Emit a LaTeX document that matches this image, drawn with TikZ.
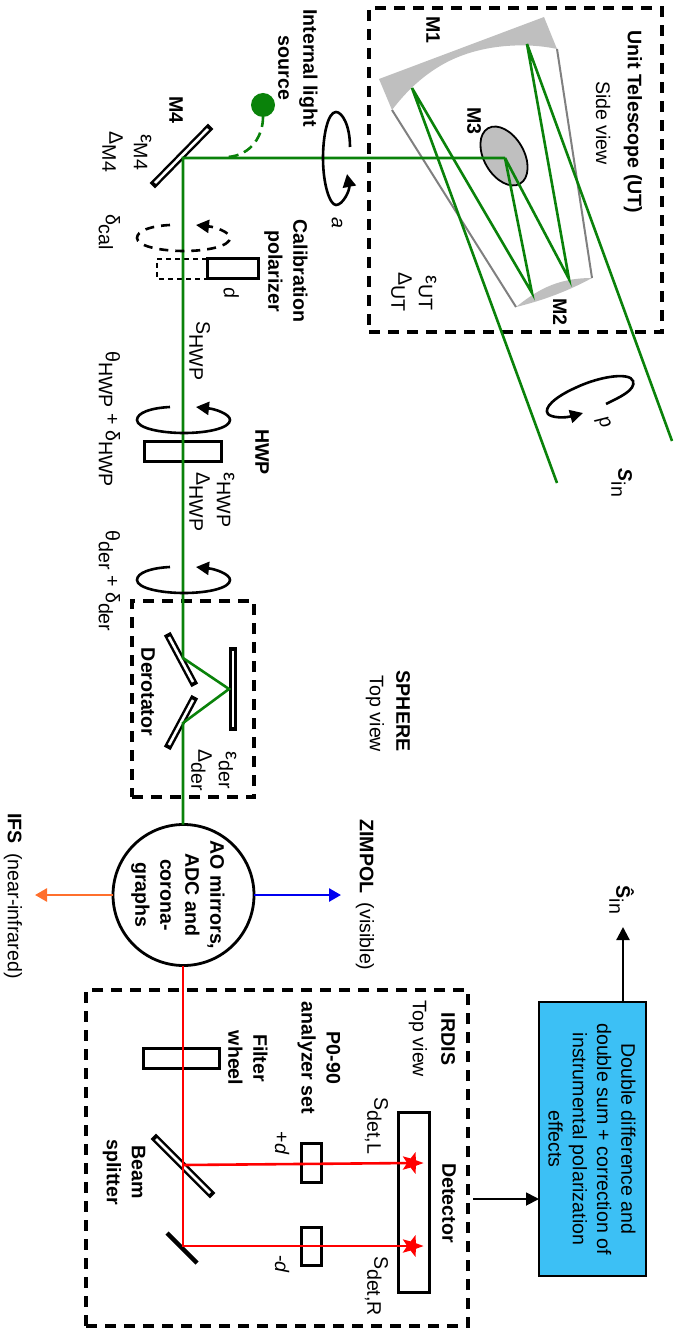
\documentclass[tikz,border=0pt]{standalone}
\usepackage{fontspec}
\setmainfont{Liberation Sans}
\usetikzlibrary{arrows.meta,shapes.geometric}
\definecolor{beamgreen}{HTML}{0A820A}
\definecolor{beamorange}{HTML}{FF6F2C}
\definecolor{beamblue}{HTML}{0000F0}
\definecolor{mirrorgray}{HTML}{BFBFBF}
\definecolor{framegray}{HTML}{808080}
\definecolor{boxblue}{HTML}{3CC0F5}
\newcommand{\Sb}[1]{\smash{\raisebox{-7pt}{#1}}}
\newcommand{\Eps}[1]{ε\Sb{#1}}
\tikzset{
  lab/.style={rotate=-90,inner sep=0pt,outer sep=0pt,align=center,font=\fontsize{19.6}{25}\selectfont},
  blab/.style={lab,font=\fontsize{19.6}{25}\selectfont\bfseries},
  boxn/.style={draw=black,line width=3pt,inner sep=0pt,outer sep=0pt},
  frame/.style={draw=black,line width=3.2pt,dash pattern=on 11pt off 8pt,inner sep=0pt,outer sep=0pt},
  beamg/.style={draw=beamgreen,line width=2.6pt},
  beamr/.style={draw=red,line width=2.6pt},
  tip/.style={-{Triangle[length=13pt,width=13pt]}},
  loopline/.style={draw=black,line width=2.6pt,tip},
  starn/.style={star,star points=5,star point ratio=2.4,fill=red,inner sep=0pt,outer sep=0pt,minimum size=23pt,shape border rotate=-90},
}
\newcommand{\mirrorbar}[2]{\draw[black,line width=7.5pt,line cap=rect] #1 -- #2; \draw[white,line width=2.6pt,line cap=butt] #1 -- #2;}
\newcommand{\rotloop}[2]{\draw[loopline,#1] (170,#2-13) .. controls (150,#2-12) and (137,#2-7) .. (137,#2) .. controls (137,#2+8) and (160,#2+13) .. (184,#2+13) .. controls (208,#2+13) and (230,#2+8) .. (230,#2) .. controls (230,#2-6) and (215,#2-11) .. (196,#2-13);}
\begin{document}
\begin{tikzpicture}[x=1pt,y=-1pt]
\useasboundingbox (0,0) rectangle (679,1329);
% ---- dashed frames
\node[frame,minimum width=293pt,minimum height=324pt] (utbox) at (515.5,170) {};
\node[frame,minimum width=122pt,minimum height=196pt] (derbox) at (193,699) {};
\node[frame,minimum width=382pt,minimum height=336pt] (irdisbox) at (277,1158) {};
% ---- telescope
\fill[mirrorgray] (379,79) -- (544,17) -- (557,49) .. controls (530,43) and (480,42) .. (440,66) .. controls (420,78) and (405,93) .. (392,110) -- cycle;
\fill[mirrorgray] (516,307) .. controls (535,292) and (555,278) .. (592,278) .. controls (570,290) and (545,300) .. (516,307) -- cycle;
\draw[framegray,line width=2pt] (392,110) -- (516,307) (557,49) -- (592,278);
\draw[black,fill=mirrorgray,line width=1.8pt,rotate around={-60:(504,156)}] (504,156) ellipse [x radius=32,y radius=20];
% ---- optical elements
\node[boxn,minimum width=51pt,minimum height=20pt] (calpol) at (232.5,269) {};
\draw[black,line width=1.2pt,dash pattern=on 5pt off 4pt] (207,259) -- (157,259) -- (157,279) -- (207,279);
\node[boxn,minimum width=77pt,minimum height=20pt] (hwp) at (182.5,451) {};
\node[boxn,minimum width=76pt,minimum height=20pt] (filter) at (181,1058) {};
\node[boxn,minimum width=20pt,minimum height=39pt] (anaL) at (311,1162.5) {};
\node[boxn,minimum width=20pt,minimum height=38pt] (anaR) at (311,1246) {};
\node[boxn,minimum width=31pt,minimum height=180pt] (detector) at (413.5,1202) {};
\mirrorbar{(208,129)}{(155,183)}
\mirrorbar{(169,637)}{(193,682)}
\mirrorbar{(193,700)}{(169,745)}
\mirrorbar{(233,651)}{(233,727)}
\mirrorbar{(156,1139)}{(210,1193)}
\draw[black,line width=4.5pt] (167,1233) -- (197,1263);
% ---- beam points
\coordinate (inR) at (672,441);
\coordinate (inL) at (557,483);
\coordinate (m1a) at (527,44);
\coordinate (m1b) at (412,88);
\coordinate (m2a) at (569,279);
\coordinate (m2b) at (532,293);
\coordinate (m3) at (505,158);
\coordinate (m4) at (183,158);
\coordinate (der1) at (183,658);
\coordinate (der2) at (229,689);
\coordinate (der3) at (183,723);
\coordinate (bs) at (183,1165);
\coordinate (fold) at (183,1246);
% ---- central circle
\node[circle,draw=black,line width=2.8pt,fill=white,minimum size=141pt,inner sep=0pt,outer sep=0pt] (ao) at (183.5,895) {};
% ---- green beams
\draw[beamg] (inR) -- (m1a) -- (m2a) -- (m3);
\draw[beamg] (inL) -- (m1b) -- (m2b) -- (m3);
\draw[beamg] (m3) -- (m4) -- (der1) -- (der2) -- (der3) -- (ao.north -| der3);
% ---- internal source
\node[circle,fill=beamgreen,minimum size=24pt,inner sep=0pt,outer sep=0pt] (src) at (263,105) {};
\coordinate (srcend) at (228,157);
\draw[beamg,dash pattern=on 10pt off 6pt] (src.south) .. controls (263,135) and (252,155) .. (srcend);
% ---- red beams
\node[starn] (starL) at (412,1163) {};
\node[starn] (starR) at (412,1246) {};
\draw[beamr] (ao.south -| fold) -- (fold) -- (starR);
\draw[beamr] (bs) -- (starL);
% ---- output arrows
\coordinate (zimend) at (341,895);
\coordinate (ifsend) at (35,895);
\draw[draw=beamblue,line width=2.6pt,-{Triangle[length=12pt,width=13pt]},beamblue] (ao.east) -- (zimend);
\draw[draw=beamorange,line width=2.6pt,-{Triangle[length=12pt,width=13pt]},beamorange] (ao.west) -- (ifsend);
% ---- rotation loops
\draw[loopline] (350,147) .. controls (350,125) and (342,112) .. (336,112) .. controls (328,112) and (323,135) .. (323,158) .. controls (323,185) and (330,205) .. (336,205) .. controls (343,205) and (350,190) .. (347,174);
\rotloop{dash pattern=on 9pt off 7pt}{238}
\rotloop{}{420}
\rotloop{}{580}
\draw[loopline] (606,404) .. controls (620,397) and (636,390) .. (633,381) .. controls (630,372) and (600,376) .. (575,388) .. controls (555,397) and (543,408) .. (548,414) .. controls (552,418) and (565,418) .. (583,413);
% ---- processing box
\node[draw=black,line width=2.4pt,fill=boxblue,minimum width=107pt,minimum height=274pt,inner sep=0pt,outer sep=0pt] (procbox) at (592.5,1139) {};
\node[lab,font=\fontsize{19.6}{24.3}\selectfont] (proctxt) at (592,1139) {Double difference and\\double sum + correction of\\instrumental polarization\\effects};
\coordinate (hatend) at (623,927);
\coordinate (detout) at (473,1199);
\draw[black,line width=2.2pt,tip] (procbox.north -| hatend) -- (hatend);
\draw[black,line width=1.8pt,tip] (detout) -- (procbox.west |- detout);
% ---- labels
\node[blab] (tUT) at (633,122) {Unit Telescope (UT)};
\node[lab] (tSide) at (603,123) {Side view};
\node[blab] (tM1) at (433,30) {M1};
\node[blab] (tM2) at (560,312) {M2};
\node[blab] (tM3) at (474,121) {M3};
\node[lab] (tEUT) at (431,293) {\Eps{UT}};
\node[lab] (tDUT) at (405,292) {Δ\Sb{UT}};
\node[blab] (tILS) at (298,68) {Internal light\\source};
\node[blab] (tM4) at (176,110) {M4};
\node[lab] (tEM4) at (146,152) {\Eps{M4}};
\node[lab] (tDM4) at (116,152) {Δ\Sb{M4}};
\node[lab] (ta) at (337,223) {\itshape a};
\node[lab] (tDcal) at (113,232) {δ\Sb{cal}};
\node[blab] (tCal) at (286,271) {Calibration\\polarizer};
\node[lab,rotate=10] (td) at (231,293) {\itshape d};
\node[lab] (tSH) at (203,351) {S\Sb{HWP}};
\node[lab] (tTH) at (113,419) {θ\Sb{HWP} + δ\Sb{HWP}};
\node[blab] (tHWP) at (262,452) {HWP};
\node[lab] (tEH) at (229,500) {\Eps{HWP}};
\node[lab] (tDH) at (203,502) {Δ\Sb{HWP}};
\node[lab] (tTD) at (113,581) {θ\Sb{der} + δ\Sb{der}};
\node[blab] (tDer) at (148,692) {Derotator};
\node[lab] (tED) at (231,770) {\Eps{der}};
\node[lab] (tDD) at (205,770) {Δ\Sb{der}};
\node[blab] (tSPH) at (403,711) {SPHERE};
\node[lab] (tTop1) at (375,714) {Top view};
\node[blab] (tAO) at (178,895) {AO mirrors,\\ADC and\\corona-\\graphs};
\node[lab] (tZim) at (365,895) {\textbf{ZIMPOL}\hspace{4pt} (visible)};
\node[lab] (tIFS) at (13,896) {\textbf{IFS}\hspace{4pt} (near-infrared)};
\node[blab] (tIR) at (448,1039) {IRDIS};
\node[lab] (tTop2) at (418,1039) {Top view};
\node[blab] (tP) at (319,1058) {P0-90\\analyzer set};
\node[blab] (tF) at (248,1058) {Filter\\wheel};
\node[blab] (tB) at (124,1172) {Beam\\splitter};
\node[lab] (tpd) at (282,1143) {+\textit{d}};
\node[lab] (tmd) at (282,1264) {-\textit{d}};
\node[lab] (tSL) at (381,1126) {S\Sb{det,L}};
\node[lab] (tSR) at (381,1286) {S\Sb{det,R}};
\node[blab] (tDet) at (449,1203) {Detector};
\node[lab,rotate=25] (tp) at (603,423) {\itshape p};
\node[lab] (tSin) at (625,483) {\textbf{\textit{S}}\Sb{in}};
\node[lab] (tShat) at (625,900) {\textbf{Ŝ}\Sb{in}};
\end{tikzpicture}
\end{document}
